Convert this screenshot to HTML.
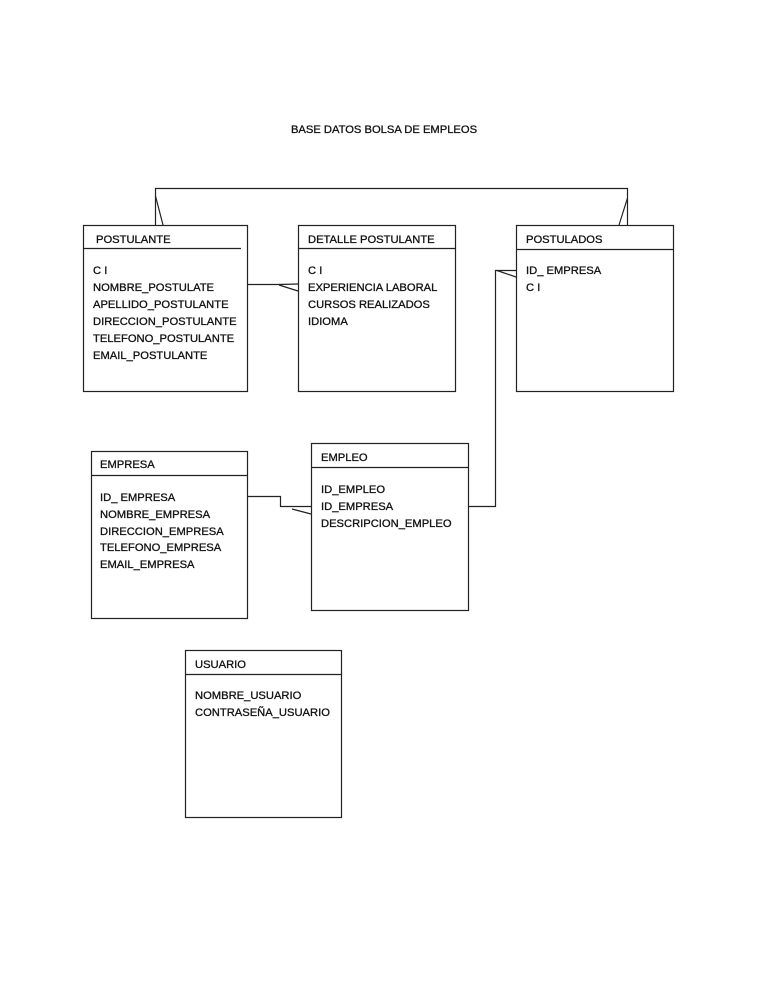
<!DOCTYPE html>
<html><head><meta charset="utf-8"><style>
html,body{margin:0;padding:0;background:#fff;}
svg text{font-family:"Liberation Sans",sans-serif;font-size:11.2px;fill:#111;stroke:#111;stroke-width:0.3px;}
</style></head><body>
<svg width="768" height="994" viewBox="0 0 768 994" xmlns="http://www.w3.org/2000/svg">
<rect width="768" height="994" fill="#fff"/>
<text x="384" y="133" text-anchor="middle">BASE DATOS BOLSA DE EMPLEOS</text>
<g fill="none" stroke="#222" stroke-width="1.2">
<rect x="83.5" y="225.5" width="164" height="166"/><line x1="83" y1="248.5" x2="241" y2="248.5"/>
<rect x="298.5" y="225.5" width="157" height="166"/><line x1="298" y1="248.5" x2="455" y2="248.5"/>
<rect x="516.5" y="225.5" width="157" height="166"/><line x1="516" y1="249.5" x2="673" y2="249.5"/>
<rect x="91.5" y="451.5" width="156" height="167"/><line x1="91" y1="475.5" x2="247" y2="475.5"/>
<rect x="311.5" y="443.5" width="157" height="167"/><line x1="311" y1="467.5" x2="468" y2="467.5"/>
<rect x="185.5" y="650.5" width="156" height="167"/><line x1="185" y1="674.5" x2="341" y2="674.5"/>
<polyline points="155.5,225 155.5,188.5 627.5,188.5 627.5,225"/>
<line x1="155.5" y1="196" x2="163" y2="225"/>
<line x1="627.5" y1="198" x2="619" y2="225"/>
<line x1="247" y1="284.5" x2="280" y2="284.5"/>
<line x1="279" y1="284.5" x2="298" y2="284"/>
<line x1="279" y1="285" x2="298" y2="291"/>
<polyline points="468,506.5 495.5,506.5 495.5,270.5 516,270.5"/>
<line x1="497" y1="270.5" x2="516" y2="277"/>
<polyline points="247,496.5 280.5,496.5 280.5,506.5 311,506.5"/>
<line x1="292" y1="509" x2="311" y2="514"/>
</g>
<text x="96" y="243">POSTULANTE</text>
<text x="93" y="274">C I</text>
<text x="93" y="291">NOMBRE_POSTULATE</text>
<text x="93" y="308">APELLIDO_POSTULANTE</text>
<text x="93" y="325">DIRECCION_POSTULANTE</text>
<text x="93" y="342">TELEFONO_POSTULANTE</text>
<text x="93" y="359">EMAIL_POSTULANTE</text>
<text x="308" y="243">DETALLE POSTULANTE</text>
<text x="308" y="274">C I</text>
<text x="308" y="291">EXPERIENCIA LABORAL</text>
<text x="308" y="308">CURSOS REALIZADOS</text>
<text x="308" y="325">IDIOMA</text>
<text x="526" y="243">POSTULADOS</text>
<text x="526" y="274">ID_ EMPRESA</text>
<text x="526" y="291">C I</text>
<text x="100" y="468">EMPRESA</text>
<text x="100" y="501">ID_ EMPRESA</text>
<text x="100" y="518">NOMBRE_EMPRESA</text>
<text x="100" y="535">DIRECCION_EMPRESA</text>
<text x="100" y="551">TELEFONO_EMPRESA</text>
<text x="100" y="568">EMAIL_EMPRESA</text>
<text x="321" y="461">EMPLEO</text>
<text x="321" y="493">ID_EMPLEO</text>
<text x="321" y="510">ID_EMPRESA</text>
<text x="321" y="527">DESCRIPCION_EMPLEO</text>
<text x="195" y="668">USUARIO</text>
<text x="195" y="699">NOMBRE_USUARIO</text>
<text x="195" y="716">CONTRASEÑA_USUARIO</text>
</svg>
</body></html>
